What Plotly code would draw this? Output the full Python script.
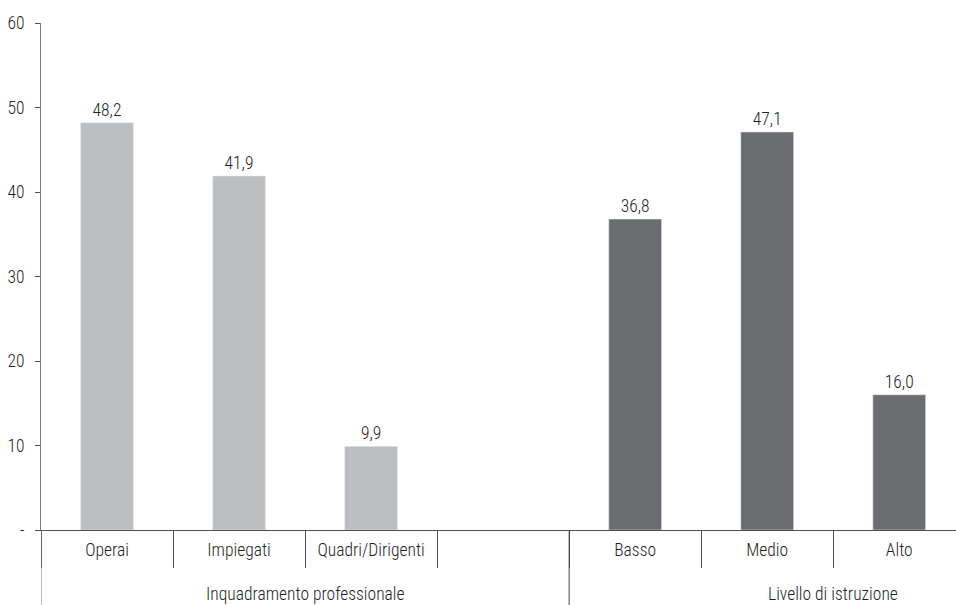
import plotly.graph_objects as go

categories = ["Operai", "Impiegati", "Quadri/Dirigenti", " ", "Basso", "Medio", "Alto"]
prof_cats = ["Operai", "Impiegati", "Quadri/Dirigenti"]
prof_vals = [48.2, 41.9, 9.9]
edu_cats = ["Basso", "Medio", "Alto"]
edu_vals = [36.8, 47.1, 16.0]
group_labels = ["Inquadramento professionale", "Livello di istruzione"]
group_centers = [1.5, 5.5]
group_starts = [-0.5, 3.5]
y_ticks = [0, 10, 20, 30, 40, 50, 60]
y_ticktext = ["-", "10", "20", "30", "40", "50", "60"]

FONT = "Roboto Condensed, Roboto, sans-serif"
TXT = "#231f20"
LINE = "#4d4d4d"
YLINE = "#7f7f7f"
FS = 17.5
W = 300

def f():
    return dict(size=FS, color=TXT, family=FONT, weight=W)

fig = go.Figure()
fig.add_trace(go.Bar(x=prof_cats, y=prof_vals, marker_color="#bdbec2", width=0.4,
                     texttemplate="%{y:.1f}", textposition="outside",
                     textfont=f(), cliponaxis=False))
fig.add_trace(go.Bar(x=edu_cats, y=edu_vals, marker_color="#6b6c70", width=0.4,
                     texttemplate="%{y:.1f}", textposition="outside",
                     textfont=f(), cliponaxis=False))

for s in group_starts:
    fig.add_shape(type="line", xref="x", yref="paper", x0=s, x1=s, y0=0, y1=-0.2,
                  line=dict(color=YLINE if s == group_starts[0] else LINE, width=1))
for lab, c in zip(group_labels, group_centers):
    fig.add_annotation(x=c, xref="x", y=0, yref="paper", yshift=-64, text=lab,
                       showarrow=False, yanchor="middle", font=f())

fig.update_layout(
    width=956, height=605, barmode="overlay", showlegend=False,
    separators=",.",
    margin=dict(l=41, r=0, t=23, b=75),
    plot_bgcolor="white", paper_bgcolor="white",
    font=f(),
    xaxis=dict(type="category", categoryorder="array", categoryarray=categories,
               range=[-0.5, 6.43], showline=True, linecolor=LINE, linewidth=1,
               ticks="outside", tickson="boundaries", ticklen=37, tickcolor=LINE,
               tickwidth=1, showgrid=False, ticklabelstandoff=4, tickfont=f()),
    yaxis=dict(range=[0, 60], tickvals=y_ticks, ticktext=y_ticktext, showline=True,
               linecolor=YLINE, linewidth=1, ticks="outside", ticklen=5, tickcolor=LINE,
               showgrid=False, zeroline=False, ticklabelstandoff=7, tickfont=f()),
)

fig.write_html("out.html")
